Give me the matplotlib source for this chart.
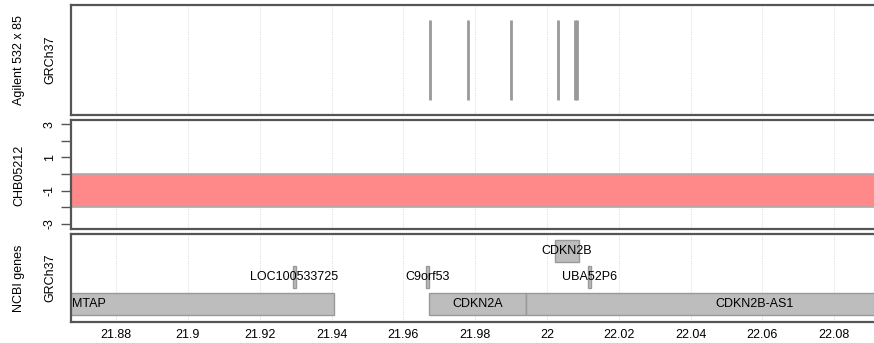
import numpy as np
import matplotlib.pyplot as plt
from matplotlib.ticker import FuncFormatter

plt.rcParams['font.family'] = ['Liberation Sans', 'DejaVu Sans']

# probe positions (Mb) for the array track
probes = [21.9673, 21.9779, 21.9899, 22.0031, 22.0079, 22.0083]

# copy number segment
seg_start = 21.80
seg_end = 22.20
seg_value = -2.0

# genes: name, start, end, row
gene_names = ["MTAP", "LOC100533725", "C9orf53", "CDKN2A", "CDKN2B-AS1", "CDKN2B", "UBA52P6"]
gene_start = [21.802, 21.9292, 21.9664, 21.9671, 21.9941, 22.0022, 22.0114]
gene_end = [21.9407, 21.9301, 21.9672, 21.9941, 22.1213, 22.0089, 22.0122]
gene_row = [0, 1, 1, 0, 0, 2, 1]

xmin, xmax = 21.8674, 22.0911
xticks = [21.88, 21.90, 21.92, 21.94, 21.96, 21.98, 22.00, 22.02, 22.04, 22.06, 22.08]

fig = plt.figure(figsize=(8.74, 3.43), dpi=100)
left = 0.0812
w = 1 - left
ax1 = fig.add_axes([left, 0.6647, w, 0.3207])
ax2 = fig.add_axes([left, 0.3324, w, 0.3177])
ax3 = fig.add_axes([left, 0.0612, w, 0.2566])

frame = "#555555"
for ax in (ax1, ax2, ax3):
    ax.set_xlim(xmin, xmax)
    ax.set_xticks(xticks)
    for x in xticks:
        ax.axvline(x, color="#d9d9d9", lw=0.7, ls=(0, (1, 1.5)), zorder=0)
    for s in ax.spines.values():
        s.set_color(frame)
        s.set_linewidth(1.6)
    ax.spines["right"].set_visible(False)
    ax.tick_params(axis="x", length=0, labelbottom=False)

# panel 1: probes
ax1.set_ylim(0, 1)
for p in probes:
    ax1.plot([p, p], [0.14, 0.86], color="#999999", lw=2, solid_capstyle="butt")
ax1.set_yticks([])
fig.text(0.022, 0.825, "Agilent 532 x 85", rotation=90, ha="center", va="center", fontsize=9)
fig.text(0.058, 0.825, "GRCh37", rotation=90, ha="center", va="center", fontsize=9)

# panel 2: copy number
ax2.set_ylim(-3.3, 3.25)
ax2.add_patch(plt.Rectangle((seg_start, seg_value), seg_end - seg_start, -seg_value,
                            facecolor="#ff8888", edgecolor="#aaaaaa", lw=1.2, zorder=2))
ax2.set_yticks([3, 2, 1, 0, -1, -2, -3])
ax2.yaxis.set_major_formatter(FuncFormatter(lambda v, pos: "%d" % v if v % 2 else ""))
ax2.tick_params(axis="y", length=7, width=1, color=frame, labelsize=9, labelrotation=90, pad=4)
for lab in ax2.get_yticklabels():
    lab.set_va("center")
fig.text(0.022, 0.49, "CHB05212", rotation=90, ha="center", va="center", fontsize=9)

# panel 3: genes
ax3.set_ylim(-0.68, 2.64)
ax3.set_yticks([])
h = 0.83
for name, s, e, r in zip(gene_names, gene_start, gene_end, gene_row):
    ax3.add_patch(plt.Rectangle((s, r - h / 2), e - s, h, facecolor="#bdbdbd",
                                edgecolor="#999999", lw=1, zorder=2))
    if name == "MTAP":
        ax3.text(xmin + 0.0002, r, name, ha="left", va="center", fontsize=9, zorder=3)
    else:
        ax3.text((s + e) / 2, r, name, ha="center", va="center", fontsize=9, zorder=3)
ax3.tick_params(axis="x", labelbottom=True, labelsize=9, pad=5)
ax3.xaxis.set_major_formatter(FuncFormatter(lambda v, pos: "%g" % round(v, 2)))
fig.text(0.022, 0.19, "NCBI genes", rotation=90, ha="center", va="center", fontsize=9)
fig.text(0.058, 0.19, "GRCh37", rotation=90, ha="center", va="center", fontsize=9)

fig.savefig("out.png", dpi=100)
